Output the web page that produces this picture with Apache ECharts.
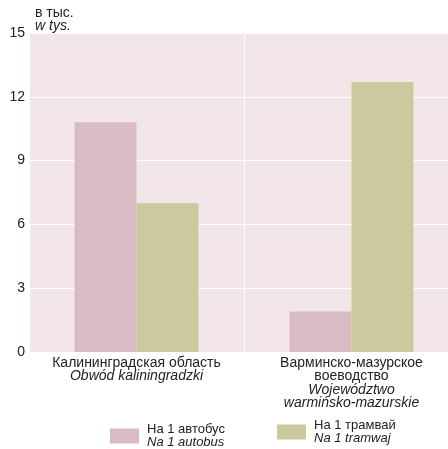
<!DOCTYPE html>
<html><head><meta charset="utf-8">
<script src="https://cdn.jsdelivr.net/npm/echarts@6/dist/echarts.min.js"></script>
<style>html,body{margin:0;padding:0;background:#fff;overflow:hidden}#c{width:448px;height:449px}</style>
</head><body><div id="c"></div>
<script>
var categoriesRu = ['Калининградская область', 'Варминско-мазурское\nвоеводство'];
var categoriesPl = ['Obwód kaliningradzki', 'Województwo\nwarmińsko-mazurskie'];
var busValues = [10.8, 1.9];
var tramValues = [7.0, 12.7];
var seriesRu = ['На 1 автобус', 'На 1 трамвай'];
var seriesPl = ['Na 1 autobus', 'Na 1 tramwaj'];
var yTicks = [0, 3, 6, 9, 12, 15];

var catKeys = categoriesRu.map(function(_, i){ return 'c' + i; });
function catLabel(v){
  var i = catKeys.indexOf(v);
  var ru = categoriesRu[i].split('\n').map(function(s){return '{a|'+s+'}';}).join('\n');
  var pl = categoriesPl[i].split('\n').map(function(s){return '{b|'+s+'}';}).join('\n');
  return ru + '\n' + pl;
}
var fam = 'Liberation Sans, Arial, sans-serif';
var chart = echarts.init(document.getElementById('c'));
function legendFmt(name){
  var i = seriesRu.indexOf(name);
  return '{a|' + seriesRu[i] + '}\n{b|' + seriesPl[i] + '}';
}
var legendRich = {
  a: {fontSize: 13, fontFamily: fam, color: '#222', lineHeight: 13, padding: [0,0,0,3]},
  b: {fontSize: 13, fontFamily: fam, color: '#222', fontStyle: 'italic', lineHeight: 13, padding: [0,0,0,3]}
};
chart.setOption({
  animation: false,
  grid: {left: 29, width: 430, top: 33, bottom: 97, show: true, backgroundColor: '#f3e6e9', borderWidth: 0,
         outerBoundsMode: 'none', containLabel: false},
  legend: [
    {data: [seriesRu[0]], left: 110, top: 423, itemWidth: 29, itemHeight: 15, itemGap: 0,
     icon: 'rect', formatter: legendFmt, textStyle: {rich: legendRich}, padding: 0},
    {data: [seriesRu[1]], left: 277, top: 419, itemWidth: 29, itemHeight: 15, itemGap: 0,
     icon: 'rect', formatter: legendFmt, textStyle: {rich: legendRich}, padding: 0}
  ],
  xAxis: {
    type: 'category', data: catKeys,
    axisLine: {show: false}, axisTick: {show: false},
    splitLine: {show: true, lineStyle: {color: '#ffffff', width: 1}},
    axisLabel: {margin: 4, interval: 0, formatter: catLabel,
      rich: {
        a: {fontSize: 14, fontFamily: fam, color: '#222', lineHeight: 13.5},
        b: {fontSize: 14, fontFamily: fam, color: '#222', fontStyle: 'italic', lineHeight: 13.5}
      }}
  },
  yAxis: {
    type: 'value', min: yTicks[0], max: yTicks[yTicks.length-1], interval: yTicks[1]-yTicks[0],
    axisLine: {show: false}, axisTick: {show: false},
    splitLine: {show: true, lineStyle: {color: '#ffffff', width: 1}},
    axisLabel: {margin: 4, fontSize: 14, fontFamily: fam, color: '#222'},
    name: '{a|в тыс.}\n{b|w tys.}', nameLocation: 'end', nameGap: 0,
    nameTextStyle: {align: 'left', verticalAlign: 'bottom', padding: [0, 0, 0, 6],
      rich: {
        a: {fontSize: 14, fontFamily: fam, color: '#222', lineHeight: 13},
        b: {fontSize: 14, fontFamily: fam, color: '#222', fontStyle: 'italic', lineHeight: 13}
      }}
  },
  series: [
    {name: seriesRu[0], type: 'bar', data: busValues, barWidth: 62, barGap: '0%',
     itemStyle: {color: '#d9bbc4'}},
    {name: seriesRu[1], type: 'bar', data: tramValues, barWidth: 62, barGap: '0%',
     itemStyle: {color: '#cbc99e'}}
  ]
});
</script></body></html>
